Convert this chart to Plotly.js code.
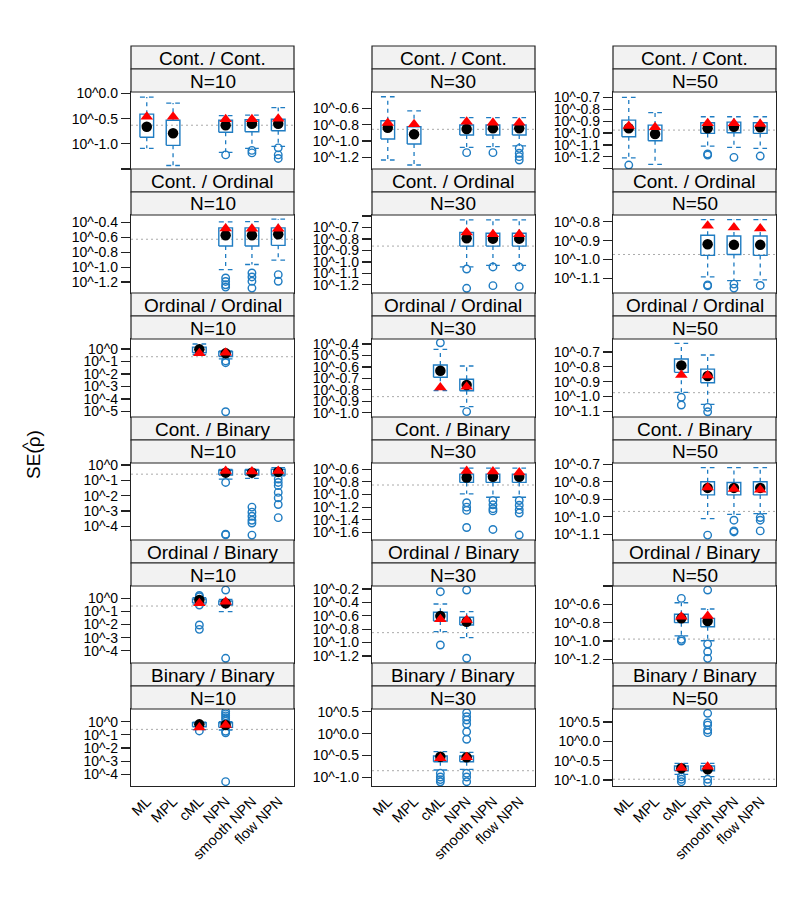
<!DOCTYPE html>
<html><head><meta charset="utf-8">
<script src="https://cdn.plot.ly/plotly-3.0.1.min.js"></script>
<style>html,body{margin:0;padding:0;background:#fff}#chart{width:797px;height:911px}</style>
</head><body><div id="chart"></div>
<script>
// ---------------- DATA (values are log10 of SE(rho-hat)) ----------------
const methods = ["ML","MPL","cML","NPN","smooth NPN","flow NPN"];
const outcomeTypes = ["Cont. / Cont.","Cont. / Ordinal","Ordinal / Ordinal","Cont. / Binary","Ordinal / Binary","Binary / Binary"];
const sampleSizes = ["N=10","N=30","N=50"];

// box rows: [method position (1-6), lower whisker, Q1, median, Q3, upper whisker, red triangle]
const cc10_box = [[1,-1.09,-0.87,-0.66,-0.41,-0.07,-0.46],[2,-1.43,-1.03,-0.79,-0.53,-0.19,-0.46],[4,-1.17,-0.77,-0.63,-0.53,-0.44,-0.51],[5,-1.09,-0.76,-0.60,-0.52,-0.43,-0.51],[6,-1.05,-0.74,-0.60,-0.51,-0.28,-0.50]];
const cc10_out = [[4,-1.22],[5,-1.13],[5,-1.18],[6,-1.08],[6,-1.22],[6,-1.29]];
const cc30_box = [[1,-1.233,-0.976,-0.837,-0.752,-0.458,-0.78],[2,-1.294,-1.037,-0.918,-0.825,-0.63,-0.796],[4,-1.077,-0.927,-0.853,-0.804,-0.715,-0.764],[5,-1.07,-0.927,-0.845,-0.804,-0.715,-0.776],[6,-1.061,-0.927,-0.845,-0.804,-0.715,-0.776]];
const cc30_out = [[4,-1.143],[5,-1.143],[6,-1.09],[6,-1.15],[6,-1.192],[6,-1.233]];
const cc50_box = [[1,-1.208,-1.031,-0.96,-0.891,-0.70,-0.941],[2,-1.263,-1.065,-1.008,-0.933,-0.829,-0.952],[4,-1.109,-1.003,-0.96,-0.913,-0.863,-0.918],[5,-1.12,-0.997,-0.947,-0.908,-0.863,-0.918],[6,-1.128,-1.003,-0.952,-0.913,-0.863,-0.924]];
const cc50_out = [[1,-1.269],[4,-1.176],[4,-1.185],[5,-1.204],[6,-1.193]];
const co10_box = [[4,-1.033,-0.717,-0.572,-0.473,-0.392,-0.481],[5,-0.965,-0.717,-0.572,-0.473,-0.39,-0.485],[6,-0.907,-0.708,-0.559,-0.473,-0.355,-0.485]];
const co10_out = [[4,-1.146],[4,-1.192],[4,-1.237],[4,-1.268],[5,-1.078],[5,-1.132],[5,-1.19],[5,-1.281],[6,-1.101],[6,-1.19]];
const co30_box = [[4,-1.044,-0.862,-0.794,-0.744,-0.633,-0.744],[5,-1.03,-0.862,-0.797,-0.75,-0.633,-0.759],[6,-1.03,-0.862,-0.797,-0.75,-0.633,-0.759]];
const co30_out = [[4,-1.062],[4,-1.23],[5,-1.044],[5,-1.207],[6,-1.044],[6,-1.215]];
const co50_box = [[4,-1.092,-0.978,-0.919,-0.871,-0.789,-0.821],[5,-1.111,-0.973,-0.922,-0.875,-0.789,-0.83],[6,-1.107,-0.978,-0.922,-0.875,-0.789,-0.835]];
const co50_out = [[4,-1.134],[4,-1.139],[5,-1.13],[5,-1.151],[6,-1.137]];
const oo10_box = [[3,-0.45,-0.3,-0.03,0.15,0.4,-0.35],[4,-0.8,-0.6,-0.35,-0.22,-0.15,-0.3]];
const oo10_out = [[4,-0.96],[4,-1.1],[4,-5.03]];
const oo30_box = [[3,-0.808,-0.691,-0.633,-0.583,-0.446,-0.78],[4,-0.948,-0.808,-0.758,-0.708,-0.592,-0.773]];
const oo30_out = [[3,-0.389],[4,-0.991]];
const oo50_box = [[3,-0.972,-0.837,-0.79,-0.747,-0.641,-0.855],[4,-1.053,-0.907,-0.862,-0.815,-0.72,-0.858]];
const oo50_out = [[3,-1.005],[3,-1.057],[4,-1.073],[4,-1.103]];
const cb10_box = [[4,-0.92,-0.65,-0.5,-0.34,-0.28,-0.39],[5,-0.88,-0.65,-0.5,-0.34,-0.28,-0.43],[6,-0.71,-0.65,-0.45,-0.28,-0.17,-0.39]];
const cb10_out = [[4,-1.14],[4,-4.52],[4,-4.56],[5,-2.75],[5,-3.08],[5,-3.35],[5,-3.61],[5,-3.79],[5,-4.58],[6,-0.92],[6,-1.14],[6,-1.35],[6,-1.79],[6,-2.15],[6,-2.58],[6,-3.44]];
const cb30_box = [[4,-0.99,-0.809,-0.731,-0.678,-0.584,-0.627],[5,-1.044,-0.809,-0.72,-0.678,-0.584,-0.636],[6,-1.044,-0.809,-0.72,-0.678,-0.584,-0.653]];
const cb30_out = [[4,-1.131],[4,-1.2],[4,-1.252],[4,-1.522],[5,-1.095],[5,-1.163],[5,-1.225],[5,-1.26],[5,-1.553],[6,-1.095],[6,-1.17],[6,-1.24],[6,-1.294],[6,-1.642]];
const cb50_box = [[4,-1.01,-0.875,-0.835,-0.8,-0.719,-0.832],[5,-0.986,-0.875,-0.835,-0.804,-0.719,-0.841],[6,-0.982,-0.875,-0.835,-0.8,-0.719,-0.845]];
const cb50_out = [[4,-1.104],[5,-1.019],[5,-1.08],[5,-1.086],[6,-1.004],[6,-1.019],[6,-1.08]];
const ob10_box = [[3,-0.44,-0.35,-0.13,-0.05,0.05,-0.38],[4,-1.02,-0.51,-0.38,-0.2,-0.08,-0.26]];
const ob10_out = [[3,0.22],[3,0.12],[3,-0.51],[3,-2.04],[3,-2.37],[4,0.63],[4,-4.58]];
const ob30_box = [[3,-0.837,-0.678,-0.603,-0.548,-0.424,-0.652],[4,-0.927,-0.737,-0.688,-0.622,-0.539,-0.663]];
const ob30_out = [[3,-0.24],[3,-1.036],[4,-0.215],[4,-1.234]];
const ob50_box = [[3,-0.943,-0.8,-0.753,-0.709,-0.583,-0.735],[4,-0.997,-0.844,-0.782,-0.753,-0.651,-0.728]];
const ob50_out = [[3,-0.535],[3,-0.982],[3,-1.0],[4,-0.444],[4,-1.033],[4,-1.117],[4,-1.189]];
const bb10_box = [[3,-0.6,-0.38,-0.2,-0.08,-0.04,-0.43],[4,-0.63,-0.43,-0.25,-0.08,0.0,-0.25]];
const bb10_out = [[3,-0.7],[4,0.76],[4,0.6],[4,0.45],[4,0.3],[4,0.15],[4,-0.72],[4,-0.84],[4,-4.56]];
const bb30_box = [[3,-0.831,-0.642,-0.527,-0.511,-0.413,-0.564],[4,-0.815,-0.642,-0.542,-0.511,-0.427,-0.54]];
const bb30_out = [[3,-0.906],[3,-0.99],[3,-1.05],[3,-1.10],[4,0.477],[4,0.386],[4,0.31],[4,0.219],[4,0.043],[4,-0.13],[4,-0.906],[4,-0.99],[4,-1.098]];
const bb50_box = [[3,-0.853,-0.759,-0.698,-0.638,-0.568,-0.69],[4,-0.914,-0.759,-0.724,-0.638,-0.568,-0.656]];
const bb50_out = [[3,-0.914],[3,-0.98],[3,-1.044],[4,0.725],[4,0.482],[4,0.42],[4,0.293],[4,0.224],[4,-0.98],[4,-1.07]];

// dotted reference value per panel (row-major: rows = outcome types, cols = N)
const refLines = [-0.63,-0.857,-0.975, -0.626,-0.862,-0.973, -0.62,-0.86,-0.974, -0.6,-0.85,-0.969, -0.59,-0.852,-0.979, -0.58,-0.847,-0.98];

// y ticks per panel ("" entries are unlabeled ticks)
const yTickVals = [
  [0,-0.5,-1.0,-1.5],[-0.6,-0.8,-1.0,-1.2],[-0.7,-0.8,-0.9,-1.0,-1.1,-1.2,-1.3],
  [-0.4,-0.6,-0.8,-1.0,-1.2],[-0.6,-0.7,-0.8,-0.9,-1.0,-1.1,-1.2],[-0.8,-0.9,-1.0,-1.1],
  [0,-1,-2,-3,-4,-5],[-0.4,-0.5,-0.6,-0.7,-0.8,-0.9,-1.0],[-0.7,-0.8,-0.9,-1.0,-1.1],
  [0,-1,-2,-3,-4],[-0.6,-0.8,-1.0,-1.2,-1.4,-1.6],[-0.7,-0.8,-0.9,-1.0,-1.1],
  [0,-1,-2,-3,-4],[-0.2,-0.4,-0.6,-0.8,-1.0,-1.2],[-0.4,-0.6,-0.8,-1.0,-1.2],
  [0,-1,-2,-3,-4],[0.5,0.0,-0.5,-1.0],[0.5,0.0,-0.5,-1.0]
];
const yTickText = [
  ["10^0.0","10^-0.5","10^-1.0",""],["10^-0.6","10^-0.8","10^-1.0","10^-1.2"],["10^-0.7","10^-0.8","10^-0.9","10^-1.0","10^-1.1","10^-1.2",""],
  ["10^-0.4","10^-0.6","10^-0.8","10^-1.0","10^-1.2"],["","10^-0.7","10^-0.8","10^-0.9","10^-1.0","10^-1.1","10^-1.2"],["10^-0.8","10^-0.9","10^-1.0","10^-1.1"],
  ["10^0","10^-1","10^-2","10^-3","10^-4","10^-5"],["10^-0.4","10^-0.5","10^-0.6","10^-0.7","10^-0.8","10^-0.9","10^-1.0"],["10^-0.7","10^-0.8","10^-0.9","10^-1.0","10^-1.1"],
  ["10^0","10^-1","10^-2","10^-3","10^-4"],["10^-0.6","10^-0.8","10^-1.0","10^-1.2","10^-1.4","10^-1.6"],["10^-0.7","10^-0.8","10^-0.9","10^-1.0","10^-1.1"],
  ["10^0","10^-1","10^-2","10^-3","10^-4"],["10^-0.2","10^-0.4","10^-0.6","10^-0.8","10^-1.0","10^-1.2"],["","10^-0.6","10^-0.8","10^-1.0","10^-1.2"],
  ["10^0","10^-1","10^-2","10^-3","10^-4"],["10^0.5","10^0.0","10^-0.5","10^-1.0"],["10^0.5","10^0.0","10^-0.5","10^-1.0"]
];
// y axis limits per panel
const yLimits = [
  [-1.50,0.03],[-1.343,-0.40],[-1.302,-0.655],
  [-1.347,-0.301],[-1.271,-0.591],[-1.177,-0.764],
  [-5.45,0.80],[-1.038,-0.356],[-1.138,-0.612],
  [-4.9,0.13],[-1.72,-0.502],[-1.132,-0.693],
  [-4.94,0.94],[-1.305,-0.155],[-1.24,-0.40],
  [-4.89,0.97],[-1.196,0.562],[-1.155,0.836]
];

const boxData = [cc10_box,cc30_box,cc50_box,co10_box,co30_box,co50_box,oo10_box,oo30_box,oo50_box,cb10_box,cb30_box,cb50_box,ob10_box,ob30_box,ob50_box,bb10_box,bb30_box,bb50_box];
const outData = [cc10_out,cc30_out,cc50_out,co10_out,co30_out,co50_out,oo10_out,oo30_out,oo50_out,cb10_out,cb30_out,cb50_out,ob10_out,ob30_out,ob50_out,bb10_out,bb30_out,bb50_out];

// ---------------- LAYOUT GEOMETRY ----------------
const W = 797, H = 911;
const colL = [131, 372, 613], colW = 163;
const stripTop = [46, 169, 293, 417, 540, 663];
const stripH = 23;
const panelBot = [169, 293, 417, 540, 663, 786];
const hw = 0.26;
const BLUE = "#1f7cc2";
const FONT = "Liberation Sans, Arial, Helvetica, sans-serif";

const traces = [];
const layout = {
  width: W, height: H, margin: {l:0, r:0, t:0, b:0},
  paper_bgcolor: "#fff", plot_bgcolor: "#fff", showlegend: false,
  font: {family: FONT, color: "#000"},
  shapes: [], annotations: []
};

for (let k = 0; k < 18; k++) {
  const r = Math.floor(k / 3), c = k % 3;
  const n = k + 1, sfx = n > 1 ? String(n) : "";
  const xa = "x" + sfx, ya = "y" + sfx;
  const boxes = boxData[k], outs = outData[k];

  const bx = [], by = [], wx = [], wy = [], cx = [], cy = [], mx = [], my = [], tx = [], ty = [];
  boxes.forEach(b => {
    const [m, lo, q1, med, q3, hi, tri] = b;
    bx.push(m-hw, m+hw, m+hw, m-hw, m-hw, null); by.push(q1, q1, q3, q3, q1, null);
    wx.push(m, m, null, m, m, null); wy.push(q3, hi, null, q1, lo, null);
    cx.push(m-hw, m+hw, null, m-hw, m+hw, null); cy.push(hi, hi, null, lo, lo, null);
    mx.push(m); my.push(med); tx.push(m); ty.push(tri);
  });
  const common = {xaxis: xa, yaxis: ya, hoverinfo: "skip", type: "scatter"};
  traces.push(Object.assign({x: wx, y: wy, mode: "lines", line: {color: BLUE, width: 1.3, dash: "4px,4px"}}, common));
  traces.push(Object.assign({x: cx, y: cy, mode: "lines", line: {color: BLUE, width: 1.3, dash: "5px,4px"}}, common));
  traces.push(Object.assign({x: bx, y: by, mode: "lines", line: {color: BLUE, width: 1.4}}, common));
  traces.push(Object.assign({x: outs.map(o => o[0]), y: outs.map(o => o[1]), mode: "markers",
    marker: {symbol: "circle-open", size: 7.5, color: BLUE, line: {width: 1.4, color: BLUE}}}, common));
  traces.push(Object.assign({x: mx, y: my, mode: "markers", marker: {symbol: "circle", size: 10.5, color: "#000"}}, common));
  traces.push(Object.assign({x: tx, y: ty, mode: "markers", marker: {symbol: "triangle-up", size: 11, color: "#ff0000"}}, common));

  const top = stripTop[r] + 2 * stripH, bot = panelBot[r];
  layout["xaxis" + sfx] = {
    domain: [colL[c] / W, (colL[c] + colW) / W], anchor: ya, range: [0.4, 6.6],
    showline: true, mirror: true, linecolor: "#222", linewidth: 1.2, showgrid: false, zeroline: false,
    tickmode: "array", tickvals: [1,2,3,4,5,6], ticktext: methods, ticks: "",
    showticklabels: r === 5, tickangle: -45, tickfont: {size: 14.5, family: FONT, color: "#000"}, fixedrange: true
  };
  layout["yaxis" + sfx] = {
    domain: [1 - bot / H, 1 - top / H], anchor: xa, range: yLimits[k],
    showline: true, mirror: true, linecolor: "#222", linewidth: 1.2, showgrid: false, zeroline: false,
    tickmode: "array", tickvals: yTickVals[k], ticktext: yTickText[k],
    ticks: "outside", ticklen: 9, tickcolor: "#222", tickwidth: 1.2,
    tickfont: {size: 14, family: FONT, color: "#000"}, fixedrange: true
  };
  layout.shapes.push({type: "line", xref: xa + " domain", yref: ya, x0: 0, x1: 1, y0: refLines[k], y1: refLines[k],
    line: {color: "#aaaaaa", width: 1, dash: "2px,3px"}, layer: "below"});

  // strips
  const labels = [outcomeTypes[r], sampleSizes[c]];
  for (let s = 0; s < 2; s++) {
    const y0 = stripTop[r] + s * stripH, y1 = y0 + stripH;
    layout.shapes.push({type: "rect", xref: "paper", yref: "paper",
      x0: colL[c] / W, x1: (colL[c] + colW) / W, y0: 1 - y1 / H, y1: 1 - y0 / H,
      fillcolor: "#f2f2f2", line: {color: "#222", width: 1.2}});
    layout.annotations.push({xref: "paper", yref: "paper", x: (colL[c] + colW / 2) / W, y: 1 - (y0 + stripH / 2 + 0.5) / H,
      text: labels[s], showarrow: false, xanchor: "center", yanchor: "middle",
      font: {size: 19, family: FONT, color: "#000"}});
  }
}

// y-axis title SE(rho-hat): text plus a circumflex accent placed over the rho
layout.annotations.push({xref: "paper", yref: "paper", x: 34 / W, y: 1 - 455 / H, text: "SE(ρ)",
  textangle: -90, showarrow: false, xanchor: "center", yanchor: "middle", font: {size: 19, family: FONT, color: "#000"}});
layout.annotations.push({xref: "paper", yref: "paper", x: 26.5 / W, y: 1 - 446 / H, text: "^",
  textangle: -90, showarrow: false, xanchor: "center", yanchor: "middle", font: {size: 15, family: FONT, color: "#000"}});

Plotly.newPlot("chart", traces, layout, {displayModeBar: false, staticPlot: true});
</script>
</body></html>
